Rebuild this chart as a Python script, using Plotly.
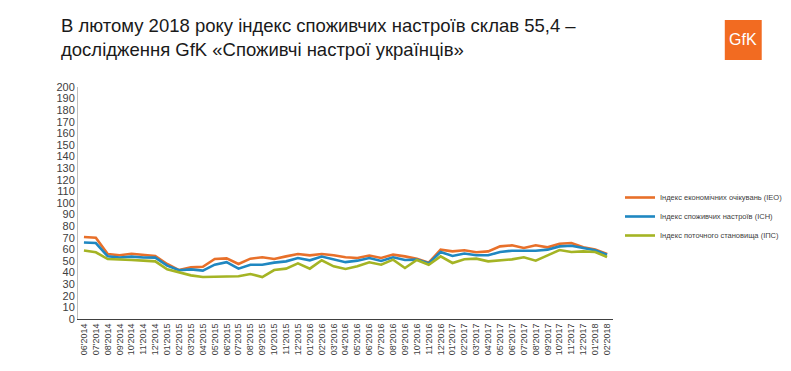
import plotly.graph_objects as go

months = ["06'2014","07'2014","08'2014","09'2014","10'2014","11'2014","12'2014",
          "01'2015","02'2015","03'2015","04'2015","05'2015","06'2015","07'2015","08'2015","09'2015","10'2015","11'2015","12'2015",
          "01'2016","02'2016","03'2016","04'2016","05'2016","06'2016","07'2016","08'2016","09'2016","10'2016","11'2016","12'2016",
          "01'2017","02'2017","03'2017","04'2017","05'2017","06'2017","07'2017","08'2017","09'2017","10'2017","11'2017","12'2017",
          "01'2018","02'2018"]

ieo = [70.7, 70.0, 56.0, 55.0, 56.3, 55.5, 54.3,
       47.4, 42.2, 44.5, 45.0, 51.7, 52.3, 47.4, 52.0, 53.2, 51.7, 54.0, 56.0,
       54.9, 56.0, 54.9, 53.2, 52.6, 54.7, 52.6, 55.5, 54.0, 52.0, 48.5, 59.8,
       58.3, 59.3, 57.5, 58.3, 62.6, 63.5, 61.2, 63.5, 61.8, 64.9, 65.5, 61.8,
       59.8, 56.0]

ich = [66.0, 65.5, 54.0, 53.0, 53.8, 53.0, 52.9,
       46.0, 42.0, 42.8, 41.7, 46.8, 49.0, 43.4, 46.8, 46.8, 48.6, 49.7, 52.6,
       50.6, 53.8, 51.7, 49.0, 50.3, 52.6, 50.0, 53.2, 50.9, 51.2, 48.0, 57.8,
       54.3, 56.5, 54.9, 54.9, 57.8, 58.9, 58.9, 58.9, 59.8, 62.6, 63.2, 61.2,
       59.2, 55.4]

ips = [59.0, 57.5, 51.7, 51.5, 50.9, 50.3, 49.7,
       42.8, 40.5, 37.6, 36.2, 36.5, 36.5, 36.8, 38.8, 36.2, 42.2, 43.4, 48.0,
       43.4, 50.6, 45.4, 43.1, 45.4, 48.9, 46.8, 51.2, 44.0, 50.9, 46.8, 54.0,
       48.3, 51.5, 52.0, 49.7, 50.6, 51.4, 53.2, 50.3, 54.9, 59.5, 57.8, 58.3,
       57.8, 53.4]

names = ["Індекс економічних очікувань (ІЕО)",
         "Індекс споживчих настроїв (ІСН)",
         "Індекс поточного становища (ІПС)"]
colors = ["#E8702A", "#1F87C1", "#A4B424"]

title_lines = ["В лютому 2018 року індекс споживчих настроїв склав 55,4 –",
               "дослідження GfK «Споживчі настрої українців»"]

W, H = 791, 371
L, R, T, B = 70, 185, 79, 60
pw, ph = W - L - R, H - T - B

def px(x):
    return (x - L) / pw

def py(y):
    return (H - B - y) / ph

fig = go.Figure()
for vals, name, col in zip([ieo, ich, ips], names, colors):
    fig.add_trace(go.Scatter(x=months, y=vals, mode="lines", name=name,
                             line=dict(color=col, width=2.6)))

fig.update_layout(
    width=W, height=H,
    margin=dict(l=L, r=R, t=T, b=B, pad=0),
    paper_bgcolor="white", plot_bgcolor="white",
    font=dict(family="Liberation Sans, Arial, sans-serif", color="#404040"),
    showlegend=True,
    legend=dict(x=px(612), y=py(175), xanchor="left", yanchor="top",
                font=dict(size=7.5, color="#404040"), itemwidth=30,
                tracegroupgap=0, bgcolor="rgba(0,0,0,0)"),
    xaxis=dict(type="category", range=[-0.5, len(months) - 0.5],
               tickangle=-90, tickfont=dict(size=9, color="#404040"),
               showline=True, linecolor="#404040", linewidth=1,
               showgrid=False, ticks="", zeroline=False),
    yaxis=dict(range=[0, 200], dtick=10, tickfont=dict(size=11, color="#404040"),
               showline=True, linecolor="#BFBFBF", linewidth=1,
               showgrid=False, ticks="", zeroline=False),
)

fig.add_annotation(text=title_lines[0] + "<br>" + title_lines[1],
                   xref="paper", yref="paper", x=px(51), y=py(5),
                   xanchor="left", yanchor="top", showarrow=False, align="left",
                   font=dict(size=18.5, color="#1a1a1a",
                             family="Liberation Sans, Arial, sans-serif"))

# GfK logo
fig.add_shape(type="rect", xref="paper", yref="paper",
              x0=px(718), x1=px(755), y0=py(52), y1=py(12),
              fillcolor="#F26B21", line=dict(width=0), layer="above")
fig.add_annotation(text="GfK", xref="paper", yref="paper",
                   x=px(736.5), y=py(32), xanchor="center", yanchor="middle",
                   showarrow=False,
                   font=dict(size=16, color="white",
                             family="Liberation Sans, Arial"))

fig.write_html("out.html")
